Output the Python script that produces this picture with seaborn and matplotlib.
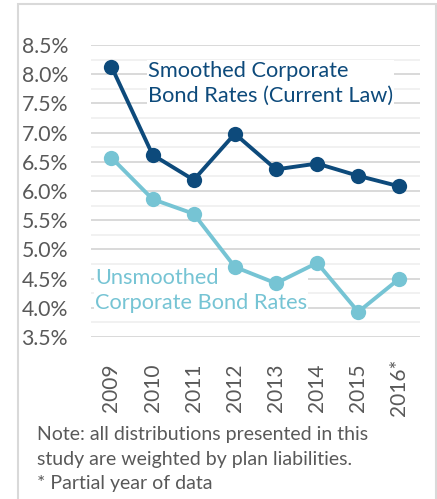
import matplotlib
matplotlib.use("Agg")
import matplotlib.pyplot as plt
import seaborn as sns
import pandas as pd
from matplotlib.patches import Rectangle
from matplotlib.ticker import MultipleLocator, FuncFormatter

years = ["2009", "2010", "2011", "2012", "2013", "2014", "2015", "2016*"]
smoothed = [8.13, 6.62, 6.19, 6.98, 6.37, 6.47, 6.26, 6.08]
unsmoothed = [6.57, 5.86, 5.61, 4.70, 4.42, 4.77, 3.93, 4.50]
series_names = ["Smoothed Corporate\nBond Rates (Current Law)",
                "Unsmoothed\nCorporate Bond Rates"]
note = ("Note: all distributions presented in this\n"
        "study are weighted by plan liabilities.\n"
        "* Partial year of data")

dark = "#0d4a7b"
light = "#76c4d4"
gray = "#595959"

sns.set_theme(style="white")
plt.rcParams['font.family'] = ['Lato', 'DejaVu Sans']

df = pd.DataFrame({
    "x": list(range(len(years))) * 2,
    "rate": smoothed + unsmoothed,
    "series": ["S"] * len(years) + ["U"] * len(years),
})

fig = plt.figure(figsize=(4.37, 4.99), dpi=100)
ax = fig.add_axes([0.208, 0.3246, 0.753, 0.5852])

ax.set_ylim(3.5, 8.5)
ax.set_xlim(-0.5, 7.5)
ax.yaxis.set_major_locator(MultipleLocator(0.5))
ax.yaxis.set_minor_locator(MultipleLocator(0.25))
ax.grid(which="major", axis="y", color="#d9d9d9", lw=1.4, zorder=0)
ax.grid(which="minor", axis="y", color="#efefef", lw=1.2, zorder=0)
ax.set_axisbelow(True)

sns.lineplot(data=df, x="x", y="rate", hue="series",
             palette={"S": dark, "U": light}, marker="o", markersize=11,
             markeredgewidth=0, linewidth=2.8, legend=False, ax=ax, zorder=3)

ax.set_xticks(range(len(years)))
ax.set_xticklabels(years, rotation=90, fontsize=15, color=gray, va="center")
ax.yaxis.set_major_formatter(FuncFormatter(lambda v, p: f"{v:.1f}%"))
ax.tick_params(axis="y", labelsize=15.3, labelcolor=gray, length=0, pad=16.5)
ax.tick_params(axis="x", length=0, pad=36.5)
ax.set_xlabel("")
ax.set_ylabel("")
for s in ax.spines.values():
    s.set_visible(False)

ax.text(0.887, 7.85, series_names[0], color=dark, fontsize=15.7,
        ha="left", va="center", linespacing=1.3, zorder=2,
        bbox=dict(facecolor="white", edgecolor="none", pad=0.5))
ax.text(-0.40, 4.30, series_names[1], color=light, fontsize=15.7,
        ha="left", va="center", linespacing=1.3, zorder=2,
        bbox=dict(facecolor="white", edgecolor="none", pad=0.5))

fig.text(37 / 437, 1 - 459 / 499, note, color=gray, fontsize=14,
         ha="left", va="center", linespacing=1.55)

fig.patches.append(Rectangle((17.5 / 437, -0.05), (435.5 - 17.5) / 437,
                             1.05 - 3.5 / 499, transform=fig.transFigure,
                             fill=False, edgecolor="#d9d9d9", lw=1.5))

fig.savefig("out.png", dpi=100)
